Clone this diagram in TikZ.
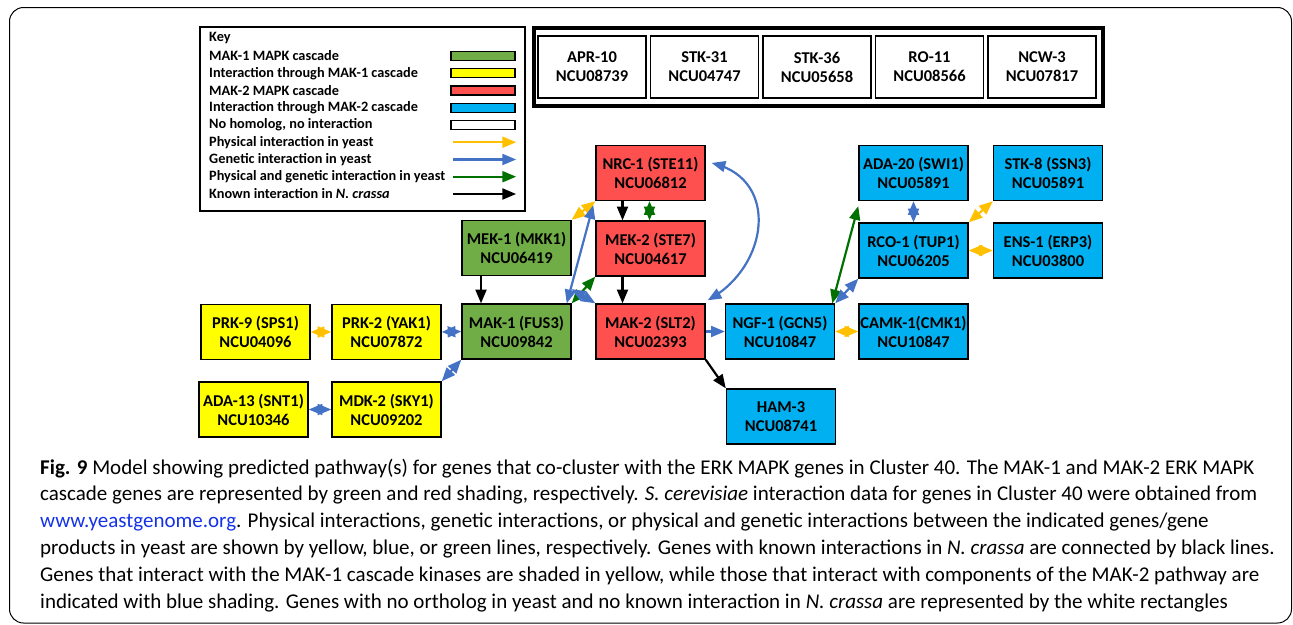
\documentclass[tikz,border=0pt]{standalone}
\usepackage{fontspec}
\setmainfont{Carlito}
\usetikzlibrary{arrows}

\definecolor{makone}{RGB}{112,173,71}
\definecolor{viaone}{RGB}{255,255,0}
\definecolor{maktwo}{RGB}{255,80,80}
\definecolor{viatwo}{RGB}{0,176,240}
\definecolor{physline}{RGB}{255,192,0}
\definecolor{genline}{RGB}{68,114,196}
\definecolor{bothline}{RGB}{0,112,0}
\definecolor{linkblue}{RGB}{20,50,230}

\begin{document}
\begin{tikzpicture}[x=1pt,y=1pt,
  gene/.style={draw=black, line width=1.6pt, minimum width=109pt, minimum height=55pt,
    inner sep=0pt, align=center, font=\fontsize{16.5}{19}\selectfont\bfseries},
  orphan/.style={gene, fill=white, line width=1.3pt, minimum width=108pt, minimum height=62pt},
  keytext/.style={anchor=west, inner sep=0pt, font=\fontsize{14.3}{16}\selectfont\bfseries},
  swatch/.style={draw=black, line width=1.3pt, minimum width=64pt, minimum height=9pt, inner sep=0pt},
  phys/.style={physline, line width=2.2pt, triangle 45-triangle 45},
  gen/.style={genline, line width=2.2pt, triangle 45-triangle 45},
  both/.style={bothline, line width=2.2pt, triangle 45-triangle 45},
  known/.style={black, line width=2.2pt, -triangle 45},
  capline/.style={anchor=base west, inner sep=0pt, font=\fontsize{21}{25}\selectfont}]

\useasboundingbox (0,0) rectangle (1293,-624);
\draw[line width=1pt, rounded corners=14pt] (9.5,-7.5) rectangle (1291.5,-623);

% key
\draw[line width=1.6pt] (200,-27) rectangle (525,-211);
\node[keytext] (keyhd) at (209,-38) {Key};
\node[keytext] (k1) at (209,-56) {MAK-1 MAPK cascade};
\node[keytext] (k2) at (209,-73.2) {Interaction through MAK-1 cascade};
\node[keytext] (k3) at (209,-90.5) {MAK-2 MAPK cascade};
\node[keytext] (k4) at (209,-107.7) {Interaction through MAK-2 cascade};
\node[keytext] (k5) at (209,-125) {No homolog, no interaction};
\node[keytext] (k6) at (209,-142.2) {Physical interaction in yeast};
\node[keytext] (k7) at (209,-159.5) {Genetic interaction in yeast};
\node[keytext] (k8) at (209,-176.7) {Physical and genetic interaction in yeast};
\node[keytext] (k9) at (209,-194) {Known interaction in \textit{N. crassa}};

\node[swatch, fill=makone] (s1) at (483,-56) {};
\node[swatch, fill=viaone] (s2) at (483,-73.2) {};
\node[swatch, fill=maktwo] (s3) at (483,-90.5) {};
\node[swatch, fill=viatwo] (s4) at (483,-107.7) {};
\node[swatch, fill=white] (s5) at (483,-125) {};

\coordinate (p6) at (453,-142.2); \coordinate (q6) at (516,-142.2);
\coordinate (p7) at (453,-159.5); \coordinate (q7) at (516,-159.5);
\coordinate (p8) at (453,-176.7); \coordinate (q8) at (516,-176.7);
\coordinate (p9) at (453,-194);   \coordinate (q9) at (516,-194);
\draw[physline, line width=2.2pt, -triangle 45] (p6) -- (q6);
\draw[genline, line width=2.2pt, -triangle 45] (p7) -- (q7);
\draw[bothline, line width=2.2pt, -triangle 45] (p8) -- (q8);
\draw[known] (p9) -- (q9);

% genes without homolog
\draw[line width=4pt] (534,-28) rectangle (1103,-106);
\node[orphan] (apr10) at (592,-67) {APR-10\\NCU08739};
\node[orphan] (stk31) at (704.5,-67) {STK-31\\NCU04747};
\node[orphan] (stk36) at (817,-67) {STK-36\\NCU05658};
\node[orphan] (ro11) at (929.5,-67) {RO-11\\NCU08566};
\node[orphan] (ncw3) at (1042,-67) {NCW-3\\NCU07817};

% MAK-1 cascade
\node[gene, fill=makone] (mek1) at (516.5,-248) {MEK-1 (MKK1)\\NCU06419};
\node[gene, fill=makone] (mak1) at (516.5,-331.5) {MAK-1 (FUS3)\\NCU09842};
\node[gene, fill=viaone] (prk9) at (255.5,-332) {PRK-9 (SPS1)\\NCU04096};
\node[gene, fill=viaone] (prk2) at (386.5,-332) {PRK-2 (YAK1)\\NCU07872};
\node[gene, fill=viaone] (ada13) at (253.5,-409.5) {ADA-13 (SNT1)\\NCU10346};
\node[gene, fill=viaone] (mdk2) at (386.5,-409.5) {MDK-2 (SKY1)\\NCU09202};

% MAK-2 cascade
\node[gene, fill=maktwo] (nrc1) at (650.5,-173) {NRC-1 (STE11)\\NCU06812};
\node[gene, fill=maktwo] (mek2) at (650.5,-248.5) {MEK-2 (STE7)\\NCU04617};
\node[gene, fill=maktwo] (mak2) at (650.5,-331.5) {MAK-2 (SLT2)\\NCU02393};
\node[gene, fill=viatwo] (ngf1) at (780,-331.5) {NGF-1 (GCN5)\\NCU10847};
\node[gene, fill=viatwo] (ham3) at (781,-416.5) {HAM-3\\NCU08741};
\node[gene, fill=viatwo] (ada20) at (913.5,-173) {ADA-20 (SWI1)\\NCU05891};
\node[gene, fill=viatwo] (stk8) at (1048,-173) {STK-8 (SSN3)\\NCU05891};
\node[gene, fill=viatwo] (rco1) at (913.5,-250.5) {RCO-1 (TUP1)\\NCU06205};
\node[gene, fill=viatwo] (ens1) at (1048,-250.5) {ENS-1 (ERP3)\\NCU03800};
\node[gene, fill=viatwo] (camk1) at (913.5,-331.5) {CAMK-1(CMK1)\\NCU10847};

\draw[known] ([xshift=-35.5pt]mek1.south) -- ([xshift=-35.5pt]mak1.north);
\draw[known] ([xshift=-28pt]nrc1.south) -- ([xshift=-28pt]mek2.north);
\draw[known] ([xshift=-28pt]mek2.south) -- ([xshift=-28pt]mak2.north);
\draw[known] (mak2.south east) -- (ham3.north west);
\draw[both] ([xshift=-1pt]nrc1.south) -- ([xshift=-1pt]mek2.north);
\draw[phys] (mek1.north east) -- (nrc1.south west);
\draw[gen] ([xshift=-5pt]mak1.north east) -- ([shift={(-2,-4)}]nrc1.south west);
\draw[both] (mak1.north east) -- (mek2.south west);
\draw[gen] ([yshift=14pt]mak1.north east) -- (mak2.north west);
\draw[gen] ([shift={(2,3)}]mak2.north east) to[out=30, in=-15, looseness=1.3] ([shift={(6,10)}]nrc1.east);
\draw[genline, line width=2.2pt, -triangle 45] (mak2.east) -- (ngf1.west);
\draw[phys] (prk9.east) -- (prk2.west);
\draw[gen] (prk2.east) -- (mak1.west);
\draw[gen] (ada13.east) -- (mdk2.west);
\draw[gen] (mdk2.north east) -- (mak1.south west);
\draw[phys] (ngf1.east) -- (camk1.west);
\draw[both] ([xshift=-3pt]ngf1.north east) -- ([yshift=-5pt]ada20.south west);
\draw[gen] (ngf1.north east) -- (rco1.south west);
\draw[gen] (ada20.south) -- (rco1.north);
\draw[phys] (rco1.north east) -- (stk8.south west);
\draw[phys] (rco1.east) -- (ens1.west);

% caption
\node[capline] (cap1) at (40,-474) {\textbf{Fig. 9} Model showing predicted pathway(s) for genes that co-cluster with the ERK MAPK genes in Cluster 40. The MAK-1 and MAK-2 ERK MAPK};
\node[capline] (cap2) at (40,-500.8) {cascade genes are represented by green and red shading, respectively. \textit{S. cerevisiae} interaction data for genes in Cluster 40 were obtained from};
\node[capline] (cap3) at (40,-527.6) {\textcolor{linkblue}{www.yeastgenome.org}. Physical interactions, genetic interactions, or physical and genetic interactions between the indicated genes/gene};
\node[capline] (cap4) at (40,-554.4) {products in yeast are shown by yellow, blue, or green lines, respectively. Genes with known interactions in \textit{N. crassa} are connected by black lines.};
\node[capline] (cap5) at (40,-581.2) {Genes that interact with the MAK-1 cascade kinases are shaded in yellow, while those that interact with components of the MAK-2 pathway are};
\node[capline] (cap6) at (40,-608) {indicated with blue shading. Genes with no ortholog in yeast and no known interaction in \textit{N. crassa} are represented by the white rectangles};

\end{tikzpicture}
\end{document}
